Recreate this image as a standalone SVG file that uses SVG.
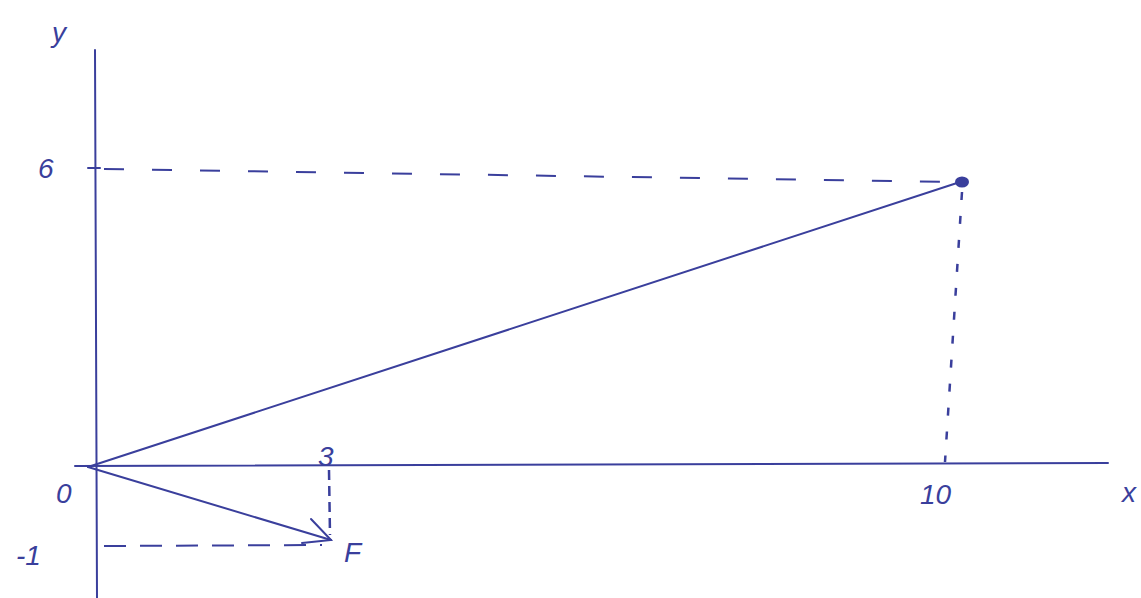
<svg xmlns="http://www.w3.org/2000/svg" width="1141" height="598" viewBox="0 0 1141 598">
<style>
.ax{stroke:#3a3f9c;stroke-width:2;fill:none;stroke-linecap:round}
.ds{stroke:#3a3f9c;stroke-width:2;fill:none;stroke-dasharray:20 28}
.dt{stroke:#3a3f9c;stroke-width:2.5;fill:none;stroke-dasharray:8 16}
.lb{font-family:"Liberation Sans",Arial,sans-serif;font-size:28px;fill:#3a3f9c;font-style:italic}
</style>
<rect width="1141" height="598" fill="#ffffff"/>
<g id="axes">
<path class="ax" d="M95,50 L97,598"/>
<path class="ax" d="M75,466 L1108,463"/>
<path class="ax" d="M88,168 L100,168"/>
</g>
<g id="connectors">
<path class="ds" d="M104,169 L955,182"/>
<path class="dt" d="M962,192 L945,462"/>
<path class="ds" d="M104,546 L322,545" style="stroke-dasharray:22 14"/>
<path class="dt" d="M329,470 L330,535" style="stroke-dasharray:10 6"/>
<path class="ax" d="M88,467 L957,183"/>
<path class="ax" d="M88,467 L331,540"/>
<path class="ax" d="M311,519 L331,540 L302,543"/>
</g>
<g id="point">
<ellipse cx="962" cy="182" rx="7" ry="5.5" fill="#3a3f9c"/>
</g>
<g id="labels">
<text class="lb" x="52" y="42">y</text>
<text class="lb" x="38" y="178">6</text>
<text class="lb" x="56" y="503">0</text>
<text class="lb" x="318" y="466">3</text>
<text class="lb" x="16" y="565">-1</text>
<text class="lb" x="344" y="562">F</text>
<text class="lb" x="920" y="504">10</text>
<text class="lb" x="1122" y="502">x</text>
</g>
</svg>
